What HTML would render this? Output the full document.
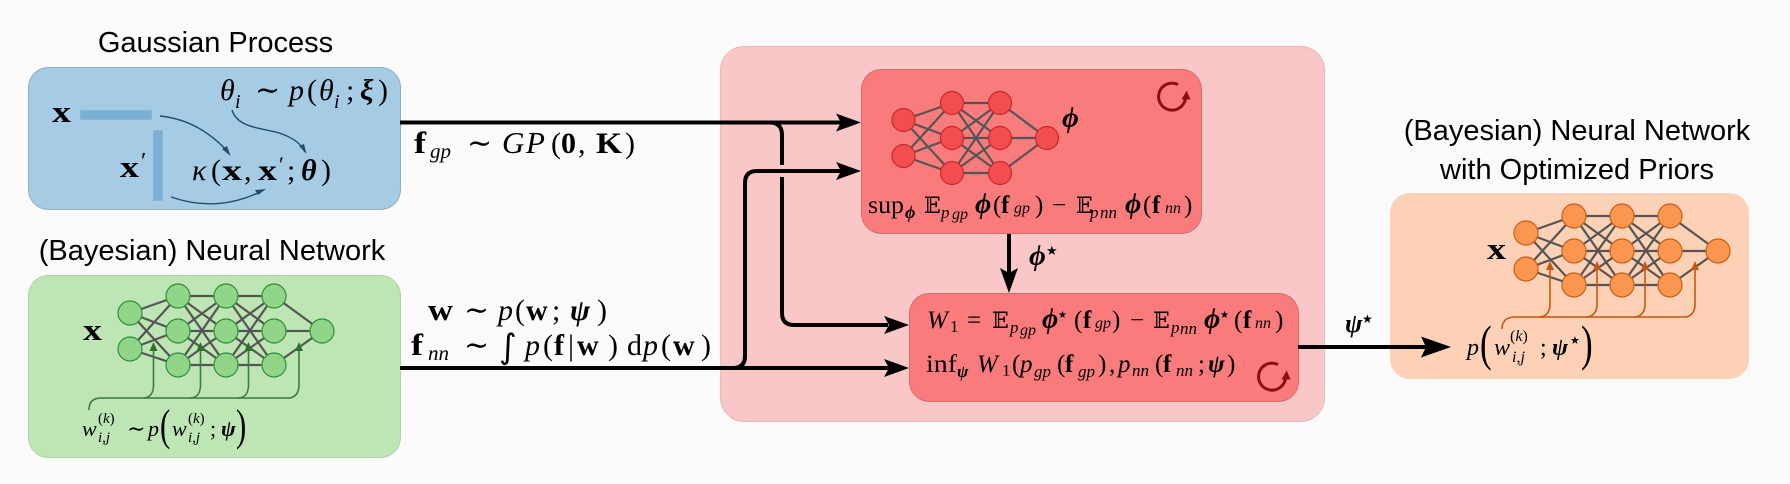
<!DOCTYPE html>
<html><head><meta charset="utf-8"><style>
html,body{margin:0;padding:0;background:#fbfbfb;width:1790px;height:484px;overflow:hidden}
svg{display:block}
text{font-family:"Liberation Serif","DejaVu Serif",serif;fill:#000}
.t{font-family:"Liberation Sans",sans-serif;font-size:29px;text-anchor:middle}
.i{font-style:italic}.b{font-weight:bold}.bi{font-weight:bold;font-style:italic}
.d{font-family:"DejaVu Serif",serif}.s{font-family:"DejaVu Sans",sans-serif}
</style></head><body>
<svg width="1790" height="484" viewBox="0 0 1790 484" xmlns="http://www.w3.org/2000/svg">
<defs>
<path id="e5" fill="none" stroke="#555" stroke-width="2.2" d="M0 0L48 -17M0 0L48 18M0 0L48 52M0 36L48 -17M0 36L48 18M0 36L48 52M48 -17L96 -17M48 -17L96 18M48 -17L96 52M48 18L96 -17M48 18L96 18M48 18L96 52M48 52L96 -17M48 52L96 18M48 52L96 52M96 -17L144 -17M96 -17L144 18M96 -17L144 52M96 18L144 -17M96 18L144 18M96 18L144 52M96 52L144 -17M96 52L144 18M96 52L144 52M144 -17L192 18M144 18L192 18M144 52L192 18"/>
<g id="n5"><circle cx="0" cy="0" r="12"/><circle cx="0" cy="36" r="12"/><circle cx="48" cy="-17" r="12"/><circle cx="48" cy="18" r="12"/><circle cx="48" cy="52" r="12"/><circle cx="96" cy="-17" r="12"/><circle cx="96" cy="18" r="12"/><circle cx="96" cy="52" r="12"/><circle cx="144" cy="-17" r="12"/><circle cx="144" cy="18" r="12"/><circle cx="144" cy="52" r="12"/><circle cx="192" cy="18" r="12"/></g>
<path id="h" d="M0 0L-25 -9L-20 0L-25 9Z" fill="#000"/>
<g id="ref"><path d="M1178 84.500A13.500 13.500 0 1 0 1185.500 98" fill="none" stroke="#8f0e0e" stroke-width="3"/><path d="M1186.700 90.500L1181.500 99.500L1190.500 99.500Z" fill="#8f0e0e"/></g>
</defs>

<rect x="720.500" y="46.500" width="604" height="375" rx="24" fill="#f9c7c8" stroke="#e6bcbd" stroke-width="1.200"/>
<rect x="28.500" y="67.500" width="372" height="142" rx="20" fill="#a6cbe4" stroke="#8fafc6" stroke-width="1"/>
<rect x="28.500" y="275.500" width="372" height="182" rx="20" fill="#bde6b4" stroke="#b0d4a8" stroke-width="1"/>
<rect x="861.500" y="69.500" width="340" height="164" rx="20" fill="#f97b7b" stroke="#d96a6c" stroke-width="1"/>
<rect x="909.500" y="293.500" width="389" height="108" rx="20" fill="#f97b7b" stroke="#d96a6c" stroke-width="1"/>
<rect x="1390" y="193" width="359" height="186" rx="20" fill="#fdd1b6"/>

<text class="t" x="215.500" y="52">Gaussian Process</text>
<text class="t" x="212" y="260">(Bayesian) Neural Network</text>
<text class="t" x="1577" y="140">(Bayesian) Neural Network</text>
<text class="t" x="1577" y="179">with Optimized Priors</text>

<!-- blue box -->
<rect x="80.500" y="110.500" width="71" height="9" fill="#7ab0d6" stroke="#8fb4cf"/>
<rect x="153.500" y="130.500" width="9" height="70" fill="#7ab0d6" stroke="#8fb4cf"/>
<text class="b" x="52" y="122" font-size="31" textLength="19" lengthAdjust="spacingAndGlyphs">x</text>
<text class="b" x="120" y="177" font-size="31" textLength="19" lengthAdjust="spacingAndGlyphs">x</text><text x="141" y="169" font-size="24">′</text>
<text class="i" x="220" y="100" font-size="30">θ</text><text class="i" x="235" y="108" font-size="20">i</text>
<text x="255" y="100" font-size="30">∼</text>
<text class="i" x="289" y="100" font-size="30">p</text><text x="307" y="100" font-size="30">(</text><text class="i" x="319" y="100" font-size="30">θ</text><text class="i" x="334" y="108" font-size="20">i</text><text x="346" y="100" font-size="30">;</text><text class="bi" x="360" y="100" font-size="30">ξ</text><text x="378" y="100" font-size="30">)</text>
<text class="i" x="192" y="180" font-size="30">κ</text><text x="211" y="180" font-size="30">(</text><text class="b" x="222" y="180" font-size="30" textLength="20" lengthAdjust="spacingAndGlyphs">x</text><text x="244" y="180" font-size="30">,</text><text class="b" x="258" y="180" font-size="30" textLength="19" lengthAdjust="spacingAndGlyphs">x</text><text x="279" y="172" font-size="22">′</text><text x="287" y="180" font-size="30">;</text><text class="bi" x="301" y="180" font-size="30">θ</text><text x="321" y="180" font-size="30">)</text>
<g fill="none" stroke="#1f4e6e" stroke-width="1.400">
<path d="M160 116C190 119 212 134 229 153"/><path d="M232 110C238 130 268 128 282 134C295 139 301 144 305 152"/><path d="M171 197C200 207 230 207 262 191"/>
</g>
<g fill="#1f4e6e"><path d="M230.500 156L222 149L227 146Z"/><path d="M306.500 154L299 146L304 144Z"/><path d="M266 189L255 190L258 195Z"/></g>

<!-- green network -->
<use href="#e5" x="130" y="313"/>
<use href="#n5" x="130" y="313" fill="#91d688" stroke="#2f8f38" stroke-width="1.200"/>
<text class="b" x="83" y="340" font-size="31" textLength="19" lengthAdjust="spacingAndGlyphs">x</text>
<g fill="none" stroke="#3a7d3a" stroke-width="1.600">
<path d="M89 410C89 402 93 398 101 398H288C296 398 299 392 299 385V345"/>
<path d="M143 398C150 398 153.500 393 153.500 385V345"/>
<path d="M190 398C197 398 200.500 393 200.500 385V345"/>
<path d="M238 398C245 398 248.500 393 248.500 385V345"/>
</g>
<g fill="#2f7030"><path d="M153.500 342L149.500 351H157.500Z"/><path d="M200.500 342L196.500 351H204.500Z"/><path d="M248.500 342L244.500 351H252.500Z"/><path d="M299 342L295 351H303Z"/></g>
<text class="i" x="82" y="436" font-size="22">w</text><text x="98" y="423" font-size="15">(<tspan class="i">k</tspan>)</text><text class="i" x="98" y="442" font-size="15">i,j</text>
<text x="127" y="436" font-size="22">∼</text><text class="i" x="148" y="436" font-size="22">p</text>
<text transform="translate(160 440) scale(.7 1)" font-size="44">(</text>
<text class="i" x="172" y="436" font-size="22">w</text><text x="188" y="423" font-size="15">(<tspan class="i">k</tspan>)</text><text class="i" x="188" y="442" font-size="15">i,j</text>
<text x="210" y="436" font-size="22">;</text><text class="bi" x="221" y="436" font-size="22">ψ</text>
<text transform="translate(236 440) scale(.7 1)" font-size="44">)</text>

<!-- connectors -->
<path d="M770 122.500C778 122.500 782 127 782 135V313C782 321 786 325 794 325H888" fill="none" stroke="#000" stroke-width="4"/>
<rect x="779" y="165" width="6" height="12" fill="#f9c7c8"/>
<path d="M400 368H890M733 368C741 368 745 364 745 356V183C745 175 749 171 757 171H842" fill="none" stroke="#000" stroke-width="4"/>
<path d="M400 122.500H842" fill="none" stroke="#000" stroke-width="4"/>
<use href="#h" x="861" y="122.500"/><use href="#h" x="861" y="171"/><use href="#h" x="909" y="325"/><use href="#h" x="909" y="368"/>
<path d="M1009 234V274" stroke="#000" stroke-width="4" fill="none"/>
<use href="#h" transform="translate(1009 293) rotate(90)"/>
<path d="M1298 347H1430" stroke="#000" stroke-width="4" fill="none"/>
<path d="M1451 347L1421 336.500L1426 347L1421 357.500Z" fill="#000"/>

<!-- connector labels -->
<text class="b" x="414" y="153" font-size="31" textLength="12" lengthAdjust="spacingAndGlyphs">f</text><text class="i" x="430" y="158" font-size="21">gp</text>
<text x="467" y="153" font-size="30">∼</text>
<text class="i" x="502" y="153" font-size="31">G</text><text class="i" x="526" y="153" font-size="31">P</text>
<text x="551" y="153" font-size="30">(</text><text class="b" x="561" y="153" font-size="30">0</text><text x="578" y="153" font-size="30">,</text><text class="b" x="596" y="153" font-size="30" textLength="26" lengthAdjust="spacingAndGlyphs">K</text><text x="625" y="153" font-size="30">)</text>
<text class="b" x="428" y="320" font-size="31" textLength="25" lengthAdjust="spacingAndGlyphs">w</text><text x="464" y="320" font-size="30">∼</text>
<text class="i" x="498" y="320" font-size="30">p</text><text x="515" y="320" font-size="30">(</text><text class="b" x="526" y="320" font-size="30">w</text><text x="552" y="320" font-size="30">;</text><text class="bi" x="570" y="320" font-size="30">ψ</text><text x="597" y="320" font-size="30">)</text>
<text class="b" x="411" y="355" font-size="31" textLength="12" lengthAdjust="spacingAndGlyphs">f</text><text class="i" x="428" y="360" font-size="21">nn</text>
<text x="464" y="355" font-size="30">∼</text><text class="s" x="499" y="358" font-size="34">∫</text>
<text class="i" x="525" y="355" font-size="30">p</text><text x="543" y="355" font-size="30">(</text><text class="b" x="554" y="355" font-size="30">f</text><text x="568" y="355" font-size="30">|</text><text class="b" x="577" y="355" font-size="30">w</text><text x="608" y="355" font-size="30">)</text>
<text x="627" y="355" font-size="30">d</text><text class="i" x="643" y="355" font-size="30">p</text><text x="661" y="355" font-size="30">(</text><text class="b" x="673" y="355" font-size="30">w</text><text x="701" y="355" font-size="30">)</text>

<!-- red network -->
<path fill="none" stroke="#555" stroke-width="2.200" d="M903.500 120L952 103M903.500 120L952 138M903.500 120L952 173M903.500 156L952 103M903.500 156L952 138M903.500 156L952 173M952 103L1000 103M952 103L1000 138M952 103L1000 173M952 138L1000 103M952 138L1000 138M952 138L1000 173M952 173L1000 103M952 173L1000 138M952 173L1000 173M1000 103L1047 138M1000 138L1047 138M1000 173L1047 138"/>
<g fill="#f44d4d" stroke="#c8282c" stroke-width="1.200"><circle cx="903.500" cy="120" r="11.500"/><circle cx="903.500" cy="156" r="11.500"/><circle cx="952" cy="103" r="11.500"/><circle cx="952" cy="138" r="11.500"/><circle cx="952" cy="173" r="11.500"/><circle cx="1000" cy="103" r="11.500"/><circle cx="1000" cy="138" r="11.500"/><circle cx="1000" cy="173" r="11.500"/><circle cx="1047" cy="138" r="11.500"/></g>
<text class="bi" x="1062" y="127" font-size="29">ϕ</text>
<use href="#ref"/>
<use href="#ref" x="100" y="280"/>

<!-- box 1 formula -->
<g font-size="25">
<text x="868" y="213" textLength="36" lengthAdjust="spacingAndGlyphs">sup</text><text class="bi" x="905" y="218" font-size="18">ϕ</text>
<text class="d" x="924" y="213" font-size="22">𝔼</text><text class="i" x="941" y="218" font-size="17">p</text><text class="i" x="952" y="219" font-size="16">gp</text>
<text class="bi" x="975" y="213" font-size="28">ϕ</text><text x="993" y="213">(</text><text class="b" x="1001" y="213">f</text><text class="i" x="1014" y="213" font-size="16">gp</text><text x="1035" y="213">)</text>
<text x="1052" y="213">−</text>
<text class="d" x="1076" y="213" font-size="22">𝔼</text><text class="i" x="1090" y="218" font-size="17">p</text><text class="i" x="1100" y="218" font-size="17">nn</text>
<text class="bi" x="1125" y="213" font-size="28">ϕ</text><text x="1143" y="213">(</text><text class="b" x="1152" y="213">f</text><text class="i" x="1165" y="213" font-size="16">nn</text><text x="1184" y="213">)</text>
</g>

<text class="bi" x="1029" y="265" font-size="29">ϕ</text><text class="s" x="1046" y="255" font-size="13">★</text>

<!-- box 2 formula -->
<g font-size="25">
<text class="i" x="927" y="328">W</text><text x="950" y="332" font-size="17">1</text><text x="967" y="328">=</text>
<text class="d" x="992" y="328" font-size="22">𝔼</text><text class="i" x="1010" y="333" font-size="17">p</text><text class="i" x="1020" y="335" font-size="16">gp</text>
<text class="bi" x="1042" y="328" font-size="28">ϕ</text><text class="s" x="1058" y="318" font-size="10">★</text><text x="1074" y="328">(</text><text class="b" x="1083" y="328">f</text><text class="i" x="1095" y="328" font-size="16">gp</text><text x="1112" y="328">)</text>
<text x="1130" y="328">−</text>
<text class="d" x="1153" y="328" font-size="22">𝔼</text><text class="i" x="1171" y="333" font-size="17">p</text><text class="i" x="1180" y="334" font-size="17">nn</text>
<text class="bi" x="1204" y="328" font-size="28">ϕ</text><text class="s" x="1220" y="318" font-size="10">★</text><text x="1234" y="328">(</text><text class="b" x="1243" y="328">f</text><text class="i" x="1255" y="328" font-size="16">nn</text><text x="1275" y="328">)</text>

<text x="926" y="372" textLength="31" lengthAdjust="spacingAndGlyphs">inf</text><text class="bi" x="957" y="377" font-size="17">ψ</text>
<text class="i" x="977" y="372">W</text><text x="1002" y="376" font-size="17">1</text><text x="1012" y="372">(</text><text class="i" x="1020" y="372">p</text><text class="i" x="1034" y="377" font-size="17">gp</text><text x="1057" y="372">(</text><text class="b" x="1065" y="372">f</text><text class="i" x="1078" y="377" font-size="17">gp</text><text x="1098" y="372">)</text><text x="1109" y="372">,</text>
<text class="i" x="1118" y="372">p</text><text class="i" x="1132" y="376" font-size="17">nn</text><text x="1155" y="372">(</text><text class="b" x="1163" y="372">f</text><text class="i" x="1176" y="376" font-size="17">nn</text><text x="1198" y="372">;</text><text class="bi" x="1208" y="372">ψ</text><text x="1227" y="372">)</text>
</g>

<text class="bi" x="1345" y="332" font-size="26">ψ</text><text class="s" x="1362" y="323" font-size="12">★</text>

<!-- orange network -->
<use href="#e5" x="1526" y="233"/>
<use href="#n5" x="1526" y="233" fill="#fd9650" stroke="#c95e18" stroke-width="1.200"/>
<text class="b" x="1487" y="259" font-size="31" textLength="19" lengthAdjust="spacingAndGlyphs">x</text>
<g fill="none" stroke="#c8560c" stroke-width="1.600">
<path d="M1502 329C1502 321 1507 317 1515 317H1684C1692 317 1695 311 1695 304V264"/>
<path d="M1539 317C1546 317 1550 312 1550 304V264"/>
<path d="M1586 317C1593 317 1597 312 1597 304V264"/>
<path d="M1634 317C1641 317 1645 312 1645 304V264"/>
</g>
<g fill="#c8560c"><path d="M1550 261L1546 270H1554Z"/><path d="M1597 261L1593 270H1601Z"/><path d="M1645 261L1641 270H1649Z"/><path d="M1695 261L1691 270H1699Z"/></g>
<text class="i" x="1467" y="355" font-size="24">p</text><text transform="translate(1480 360) scale(.7 1)" font-size="50">(</text>
<text class="i" x="1494" y="355" font-size="24">w</text><text x="1510" y="341" font-size="16">(<tspan class="i">k</tspan>)</text><text class="i" x="1512" y="362" font-size="16">i,j</text>
<text x="1540" y="355" font-size="24">;</text><text class="bi" x="1552" y="355" font-size="24">ψ</text><text class="s" x="1570" y="344" font-size="11">★</text>
<text transform="translate(1581 360) scale(.7 1)" font-size="50">)</text>
</svg>
</body></html>
